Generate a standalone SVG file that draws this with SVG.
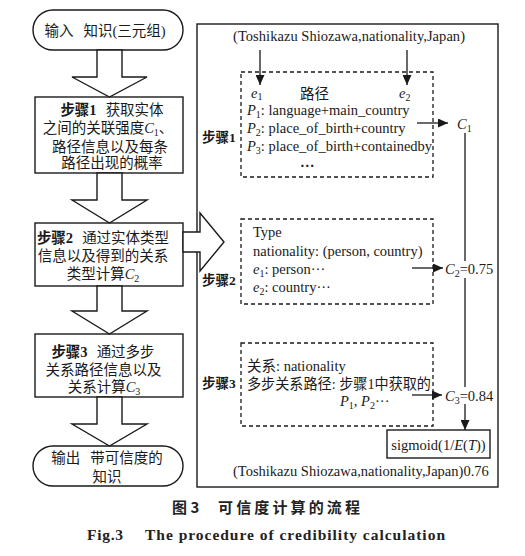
<svg xmlns="http://www.w3.org/2000/svg" width="525" height="556" viewBox="0 0 525 556">
<style>
.bg{fill:#fff}
.box{fill:#fff;stroke:#1a1a1a;stroke-width:1.4}
.dash{fill:none;stroke:#1a1a1a;stroke-width:1.3;stroke-dasharray:4 3}
.ln{fill:none;stroke:#1a1a1a;stroke-width:1.3}
.blk{fill:#fff;stroke:#1a1a1a;stroke-width:1.4;stroke-linejoin:miter}
.cn{font-family:"Liberation Serif","Noto Sans CJK SC",serif;font-size:14.5px;fill:#1a1a1a}
.en{font-family:"Liberation Serif","Noto Sans CJK SC",serif;font-size:14.5px;fill:#1a1a1a}
.lab{font-family:"Liberation Serif","Noto Sans CJK SC",serif;font-size:13.5px;font-weight:bold;fill:#1a1a1a}
.b{font-weight:bold}
.i{font-style:italic}
.cap{font-family:"Noto Sans CJK SC",sans-serif;font-size:15px;font-weight:bold;fill:#222}
.capen{font-family:"Liberation Serif",serif;font-size:15.5px;font-weight:bold;fill:#222}
</style>
<defs>
<marker id="ah" markerUnits="userSpaceOnUse" markerWidth="11" markerHeight="9" refX="10" refY="4.5" orient="auto">
<path d="M0,0 L10,4.5 L0,9 z" fill="#1a1a1a"/>
</marker>
</defs>
<rect class="bg" x="0" y="0" width="525" height="556"/>

<!-- right panel -->
<g id="panel">
<rect class="box" x="197" y="24" width="301" height="463"/>
</g>

<!-- left column nodes -->
<g id="input">
<rect class="box" x="33" y="10" width="150" height="40" rx="20" ry="20"/>
<text class="cn" x="105" y="36" text-anchor="middle">输入<tspan dx="10">知识(三元组)</tspan></text>
</g>
<g id="step1">
<rect class="box" x="35" y="97" width="148" height="76"/>
<text class="cn" x="112" y="115" text-anchor="middle"><tspan class="b">步骤1</tspan><tspan dx="9">获取实体</tspan></text>
<text class="cn" x="108" y="133" text-anchor="middle">之间的关联强度<tspan class="i">C</tspan><tspan font-size="10" dy="3">1</tspan><tspan dy="-3">、</tspan></text>
<text class="cn" x="110" y="151.5" text-anchor="middle">路径信息以及每条</text>
<text class="cn" x="112" y="168" text-anchor="middle">路径出现的概率</text>
</g>
<g id="step2">
<rect class="box" x="35" y="223" width="148" height="63"/>
<text class="cn" x="103" y="243" text-anchor="middle"><tspan class="b">步骤2</tspan><tspan dx="9">通过实体类型</tspan></text>
<text class="cn" x="103" y="261" text-anchor="middle">信息以及得到的关系</text>
<text class="cn" x="103" y="278.5" text-anchor="middle">类型计算<tspan class="i">C</tspan><tspan font-size="10" dy="3">2</tspan></text>
</g>
<g id="step3">
<rect class="box" x="35" y="334" width="148" height="63"/>
<text class="cn" x="103" y="357" text-anchor="middle"><tspan class="b">步骤3</tspan><tspan dx="9">通过多步</tspan></text>
<text class="cn" x="103.5" y="375" text-anchor="middle">关系路径信息以及</text>
<text class="cn" x="104" y="392" text-anchor="middle">关系计算<tspan class="i">C</tspan><tspan font-size="10" dy="3">3</tspan></text>
</g>
<g id="output">
<rect class="box" x="33" y="446" width="150" height="40" rx="20" ry="20"/>
<text class="cn" x="107" y="463" text-anchor="middle">输出<tspan dx="10">带可信度的</tspan></text>
<text class="cn" x="107" y="482" text-anchor="middle">知识</text>
</g>

<!-- right panel contents -->
<g id="triple-in">
<text class="en" x="233" y="41" textLength="232" lengthAdjust="spacing">(Toshikazu Shiozawa,nationality,Japan)</text>
</g>
<g id="path-box">
<rect class="dash" x="241" y="72" width="192" height="105"/>
<text class="en i" x="251" y="97.5">e<tspan font-size="10" dy="2.5" font-style="normal">1</tspan></text>
<text class="cn" x="300" y="99">路径</text>
<text class="en i" x="399" y="98">e<tspan font-size="10" dy="2.5" font-style="normal">2</tspan></text>
<text class="en" x="247" y="115"><tspan class="i">P</tspan><tspan font-size="10" dy="3">1</tspan><tspan dy="-3">: language+main_country</tspan></text>
<text class="en" x="247" y="132.5"><tspan class="i">P</tspan><tspan font-size="10" dy="3">2</tspan><tspan dy="-3">: place_of_birth+country</tspan></text>
<text class="en" x="247" y="150.5"><tspan class="i">P</tspan><tspan font-size="10" dy="3">3</tspan><tspan dy="-3">: place_of_birth+containedby</tspan></text>
<text class="en b" x="300" y="167">…</text>
</g>
<g id="label1"><text class="lab" x="202" y="142">步骤1</text></g>
<g id="c1"><text class="en" x="457" y="129"><tspan class="i">C</tspan><tspan font-size="10" dy="3">1</tspan></text></g>

<g id="type-box">
<rect class="dash" x="241" y="219" width="192" height="85"/>
<text class="en" x="253" y="237">Type</text>
<text class="en" x="253" y="256">nationality: (person, country)</text>
<text class="en" x="253" y="273.5"><tspan class="i">e</tspan><tspan font-size="10" dy="3">1</tspan><tspan dy="-3">: person···</tspan></text>
<text class="en" x="253" y="292"><tspan class="i">e</tspan><tspan font-size="10" dy="3">2</tspan><tspan dy="-3">: country···</tspan></text>
</g>
<g id="label2"><text class="lab" x="202" y="285">步骤2</text></g>
<g id="c2"><text class="en" x="445" y="274"><tspan class="i">C</tspan><tspan font-size="10" dy="3">2</tspan><tspan dy="-3">=0.75</tspan></text></g>

<g id="rel-box">
<rect class="dash" x="241" y="343" width="192" height="83"/>
<text class="cn" x="247" y="371">关系: nationality</text>
<text class="cn" x="247" y="389" textLength="184" lengthAdjust="spacingAndGlyphs">多步关系路径: 步骤1中获取的</text>
<text class="en" x="340" y="406"><tspan class="i">P</tspan><tspan font-size="10" dy="3">1</tspan><tspan dy="-3">, </tspan><tspan class="i">P</tspan><tspan font-size="10" dy="3">2</tspan><tspan dy="-3">···</tspan></text>
</g>
<g id="label3"><text class="lab" x="202" y="388">步骤3</text></g>
<g id="c3"><text class="en" x="445" y="401"><tspan class="i">C</tspan><tspan font-size="10" dy="3">3</tspan><tspan dy="-3">=0.84</tspan></text></g>

<g id="sigmoid">
<rect class="box" x="387" y="430" width="103" height="28"/>
<text class="en" x="438.5" y="450" text-anchor="middle">sigmoid(1/<tspan class="i">E</tspan>(<tspan class="i">T</tspan>))</text>
</g>
<g id="triple-out">
<text class="en" x="233" y="476">(Toshikazu Shiozawa,nationality,Japan)0.76</text>
</g>

<!-- connectors -->
<g id="connectors">
<polygon class="blk" points="97,50 122,50 122,77 147,77 109.5,97 72,77 97,77"/>
<polygon class="blk" points="97,173 122,173 122,200 147,200 109.5,223 72,200 97,200"/>
<polygon class="blk" points="97,286 122,286 122,311 147,311 109.5,334 72,311 97,311"/>
<polygon class="blk" points="97,397 122,397 122,424 147,424 109.5,446 72,424 97,424"/>
<polygon class="blk" points="183,232 200,232 200,213 224,242 200,271 200,252 183,252"/>
<line class="ln" x1="260" y1="50" x2="260" y2="85" marker-end="url(#ah)"/>
<line class="ln" x1="407" y1="50" x2="407" y2="85" marker-end="url(#ah)"/>
<line class="ln" x1="417" y1="123" x2="448" y2="123" marker-end="url(#ah)"/>
<line class="ln" x1="412" y1="268" x2="443" y2="268" marker-end="url(#ah)"/>
<line class="ln" x1="412" y1="395" x2="442" y2="395" marker-end="url(#ah)"/>
<line class="ln" x1="465" y1="133" x2="465" y2="261"/>
<line class="ln" x1="465" y1="278" x2="465" y2="387"/>
<line class="ln" x1="465" y1="404" x2="465" y2="430" marker-end="url(#ah)"/>
</g>

<!-- caption -->
<g id="caption">
<text class="cap" x="172" y="513">图 3</text>
<text class="cap" x="218" y="513" textLength="142" lengthAdjust="spacing">可信度计算的流程</text>
<text class="capen" x="87" y="540" textLength="36" lengthAdjust="spacing">Fig.3</text>
<text class="capen" x="145" y="540" textLength="300" lengthAdjust="spacing">The procedure of credibility calculation</text>
</g>
</svg>
